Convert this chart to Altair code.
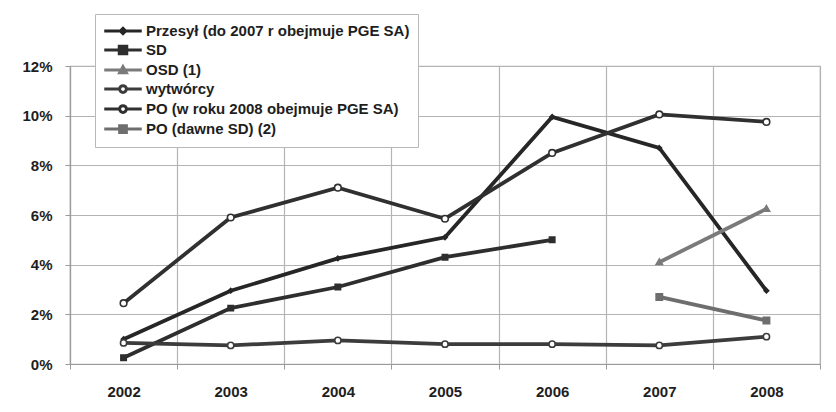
import altair as alt
import pandas as pd

years = ["2002", "2003", "2004", "2005", "2006", "2007", "2008"]

series_names = [
    "Przesył (do 2007 r obejmuje PGE SA)",
    "SD",
    "OSD (1)",
    "wytwórcy",
    "PO (w roku 2008 obejmuje PGE SA)",
    "PO (dawne SD) (2)",
]

przesyl = [0.0100, 0.0295, 0.0425, 0.0510, 0.0995, 0.0870, 0.0295]
sd = [0.0025, 0.0225, 0.0310, 0.0430, 0.0500, None, None]
osd = [None, None, None, None, None, 0.0410, 0.0625]
wytworcy = [0.0085, 0.0075, 0.0095, 0.0080, 0.0080, 0.0075, 0.0110]
po_pge = [0.0245, 0.0590, 0.0710, 0.0585, 0.0850, 0.1005, 0.0975]
po_dawne = [None, None, None, None, None, 0.0270, 0.0175]

values = [przesyl, sd, osd, wytworcy, po_pge, po_dawne]

line_colors = ["#262626", "#2e2e2e", "#7a7a7a", "#3c3c3c", "#303030", "#6e6e6e"]
fill_colors = ["#262626", "#2e2e2e", "#7a7a7a", "#ffffff", "#ffffff", "#6e6e6e"]

marker_paths = [
    "M0,-0.5L0.5,0L0,0.5L-0.5,0Z",
    "M-0.55,-0.55H0.55V0.55H-0.55Z",
    "M0,-0.6L0.6,0.45L-0.6,0.45Z",
    "M-0.55,0A0.55,0.55 0 1,0 0.55,0A0.55,0.55 0 1,0 -0.55,0Z",
    "M-0.55,0A0.55,0.55 0 1,0 0.55,0A0.55,0.55 0 1,0 -0.55,0Z",
    "M-0.5,-0.5H0.5V0.5H-0.5Z",
]
legend_paths = [
    "M-2.5,0H2.5M0,-0.35L0.35,0L0,0.35L-0.35,0Z",
    "M-2.5,0H2.5M-0.5,-0.5H0.5V0.5H-0.5Z",
    "M-2.5,0H2.5M0,-0.45L0.45,0.35L-0.45,0.35Z",
    "M-2.5,0H-0.45A0.45,0.45 0 1,1 0.45,0H2.5M-0.45,0A0.45,0.45 0 1,0 0.45,0",
    "M-2.5,0H-0.45A0.45,0.45 0 1,1 0.45,0H2.5M-0.45,0A0.45,0.45 0 1,0 0.45,0",
    "M-2.5,0H2.5M-0.45,-0.45H0.45V0.45H-0.45Z",
]
marker_sizes = [80, 160, 120, 120, 120, 140]

rows = []
for name, vals in zip(series_names, values):
    for yr, v in zip(years, vals):
        if v is not None:
            rows.append({"year": yr, "series": name, "value": v})
df = pd.DataFrame(rows)

FONT = "Liberation Sans"

axis_common = dict(
    title=None,
    labelFont=FONT,
    labelFontSize=15,
    labelFontWeight="bold",
    labelColor="#1e1e1e",
    tickSize=5,
    tickColor="#9a9a9a",
    domainColor="#9a9a9a",
    gridColor="#b4b4b4",
    gridWidth=1.2,
    domainWidth=1.2,
    grid=True,
)

x_enc = alt.X(
    "year:N",
    sort=years,
    scale=alt.Scale(type="band", domain=years, paddingInner=0, paddingOuter=0),
    axis=alt.Axis(labelAngle=0, tickBand="extent", labelPadding=15, **axis_common),
)
y_enc = alt.Y(
    "value:Q",
    scale=alt.Scale(domain=[0, 0.12], nice=False),
    axis=alt.Axis(
        values=[0, 0.02, 0.04, 0.06, 0.08, 0.10, 0.12],
        format=".0%",
        labelPadding=13,
        **axis_common,
    ),
)

stroke_scale = alt.Scale(domain=series_names, range=line_colors)
fill_scale = alt.Scale(domain=series_names, range=fill_colors)

base = alt.Chart(df)

lines = base.mark_line(strokeWidth=3.8).encode(
    x=x_enc,
    y=y_enc,
    stroke=alt.Stroke("series:N", scale=stroke_scale, legend=None),
    detail="series:N",
)

points = base.mark_point(filled=False, opacity=1, strokeWidth=1.6).encode(
    x=x_enc,
    y=y_enc,
    shape=alt.Shape("series:N", scale=alt.Scale(domain=series_names, range=marker_paths), legend=None),
    fill=alt.Fill("series:N", scale=fill_scale, legend=None),
    stroke=alt.Stroke("series:N", scale=stroke_scale, legend=None),
    size=alt.Size("series:N", scale=alt.Scale(domain=series_names, range=marker_sizes), legend=None),
)

legend_cfg = alt.Legend(
    title=None,
    orient="none",
    legendX=25,
    legendY=-52,
    padding=8,
    strokeColor="#b8b8b8",
    fillColor="#ffffff",
    labelFont=FONT,
    labelFontSize=15,
    labelFontWeight="bold",
    labelColor="#1e1e1e",
    labelLimit=400,
    labelOffset=14,
    symbolOffset=11,
    symbolSize=225,
    symbolStrokeWidth=3,
    symbolOpacity=1,
    rowPadding=0,
)

legend_layer = base.transform_filter("false").mark_point(filled=False, opacity=1).encode(
    x=x_enc,
    y=y_enc,
    shape=alt.Shape("series:N", scale=alt.Scale(domain=series_names, range=legend_paths), legend=legend_cfg),
    fill=alt.Fill("series:N", scale=fill_scale, legend=legend_cfg),
    stroke=alt.Stroke("series:N", scale=stroke_scale, legend=legend_cfg),
)

chart = (
    alt.layer(lines, points, legend_layer)
    .resolve_scale(shape="independent", fill="independent", stroke="independent", size="independent")
    .properties(
        width=750,
        height=298,
        autosize=alt.AutoSizeParams(type="none"),
        padding={"left": 62, "top": 58, "right": 8, "bottom": 40},
        background="#ffffff",
    )
    .configure_view(stroke="#b4b4b4", strokeWidth=1.2)
    .configure_axisBand(grid=True, tickBand="extent")
    .configure_axisX(grid=True, gridColor="#b4b4b4", gridWidth=1.2)
)

chart.save("out.html", embed_options={"renderer": "svg", "actions": False})
